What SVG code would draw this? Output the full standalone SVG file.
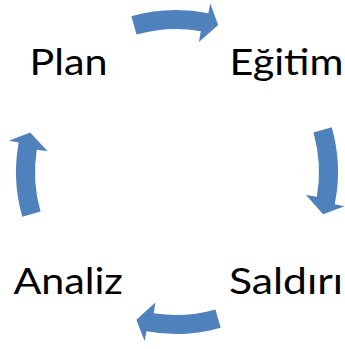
<svg xmlns="http://www.w3.org/2000/svg" width="345" height="349" viewBox="0 0 345 349">
<style>
.lbl{font-family:Lato,"Open Sans","Liberation Sans",sans-serif;font-size:37.5px;fill:#000}
.arr{fill:#4F81BD;stroke:none}
</style>
<defs>
<path id="arrA" d="M 131.35 16.27 A 162 162 0 0 1 208.30 13.26 L 210.30 3.46 L 218.17 24.92 L 198.92 42.0 L 200.83 31.17 A 143 143 0 0 0 136.59 34.53 Z"/>
<path id="arrB" d="M 131.35 16.27 A 162 162 0 0 1 205.52 12.71 L 207.34 2.87 L 215.60 24.21 L 196.65 41.62 L 198.37 30.76 A 143 143 0 0 0 136.59 34.53 Z"/>
</defs>
<rect width="345" height="349" fill="#fff"/>
<g id="connectors">
<use href="#arrA" class="arr"/>
<use href="#arrA" class="arr" transform="rotate(90 176 172)"/>
<use href="#arrB" class="arr" transform="rotate(180 176 172)"/>
<use href="#arrB" class="arr" transform="translate(2 0) rotate(270 176 172)"/>
</g>
<g id="plan"><text class="lbl" x="29.5" y="75" textLength="78" lengthAdjust="spacingAndGlyphs">Plan</text></g>
<g id="egitim"><text class="lbl" x="229.5" y="75" textLength="114" lengthAdjust="spacingAndGlyphs">Eğitim</text></g>
<g id="saldiri"><text class="lbl" x="229" y="294" textLength="114" lengthAdjust="spacingAndGlyphs">Saldırı</text></g>
<g id="analiz"><text class="lbl" x="13.5" y="294" textLength="109.5" lengthAdjust="spacingAndGlyphs">Analiz</text></g>
</svg>
